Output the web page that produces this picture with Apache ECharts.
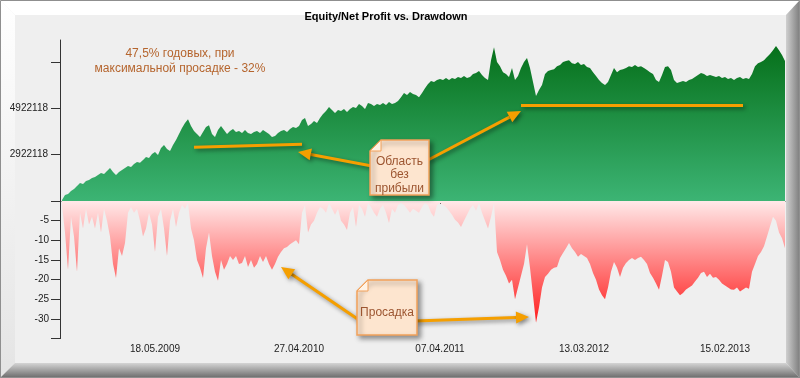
<!DOCTYPE html>
<html lang="ru">
<head>
<meta charset="UTF-8">
<title>Equity/Net Profit vs. Drawdown</title>
<script src="https://cdn.jsdelivr.net/npm/echarts@6/dist/echarts.min.js"></script>
<style>
    html, body { margin: 0; padding: 0; background: #fff; }
    #main { width: 800px; height: 378px; }
</style>
</head>
<body>
<div id="main"></div>
<script>
// equity, millions
var equity = [
    0.97, 1.18, 1.22, 1.35, 1.44, 1.57, 1.70, 1.66, 1.79, 1.83,
    1.92, 1.96, 2.05, 2.13, 2.09, 2.22, 2.35, 2.18, 2.05, 2.18,
    2.26, 2.35, 2.43, 2.39, 2.52, 2.61, 2.57, 2.69, 2.82, 2.78,
    2.95, 3.04, 2.91, 3.21, 3.34, 3.17, 3.08, 3.34, 3.56, 3.82,
    4.08, 4.29, 4.46, 4.16, 3.95, 3.82, 3.69, 3.90, 4.12, 4.20,
    3.82, 3.69, 3.99, 4.16, 3.99, 3.82, 3.95, 4.03, 3.90, 3.95,
    3.86, 3.99, 3.86, 3.82, 3.90, 3.95, 3.86, 3.99, 3.90, 3.82,
    3.69, 3.73, 3.86, 3.95, 3.99, 3.90, 4.03, 4.12, 4.08, 4.16,
    4.42, 4.51, 4.16, 4.25, 4.38, 4.29, 4.51, 4.68, 4.81, 4.98,
    4.85, 4.72, 4.85, 4.81, 4.90, 4.77, 4.90, 4.98, 4.94, 5.11,
    5.03, 4.90, 5.16, 5.11, 5.03, 5.11, 5.07, 5.16, 5.07, 5.20,
    5.11, 5.16, 5.24, 5.41, 5.59, 5.50, 5.63, 5.55, 5.50, 5.41,
    5.59, 5.80, 5.98, 6.11, 6.07, 6.15, 6.19, 6.15, 6.24, 6.15,
    6.24, 6.19, 6.28, 6.24, 6.32, 6.24, 6.28, 6.41, 6.45, 6.54,
    6.37, 6.24, 6.15, 7.01, 7.57, 6.93, 6.75, 6.49, 6.41, 6.28,
    6.67, 6.15, 6.32, 6.67, 6.93, 7.10, 6.67, 6.06, 5.46, 5.72,
    5.93, 6.41, 6.54, 6.58, 6.62, 6.75, 6.80, 6.93, 6.97, 7.01,
    6.88, 6.84, 6.93, 6.80, 6.84, 6.71, 6.67, 6.49, 6.32, 6.15,
    6.02, 5.93, 6.06, 6.37, 6.67, 6.49, 6.58, 6.62, 6.67, 6.75,
    6.71, 6.80, 6.71, 6.75, 6.67, 6.58, 6.49, 6.41, 6.15, 6.06,
    6.37, 6.71, 6.75, 6.58, 6.15, 6.02, 6.06, 6.11, 6.06, 6.15,
    6.19, 6.28, 6.37, 6.45, 6.41, 6.32, 6.37, 6.32, 6.28, 6.32,
    6.24, 6.28, 6.19, 6.24, 6.15, 6.24, 6.28, 6.19, 6.24, 6.19,
    6.41, 6.75, 6.88, 6.93, 7.01, 7.14, 7.27, 7.44, 7.62, 7.44,
    7.23, 6.97
];
// drawdown, %
var drawdown = [
    -1, -8, -17.5, -4, -9, -18, -3, -7, -2, -6,
    -4, -7, -3, -8, -2, -5, -9, -16, -19.6, -12,
    -14, -10.7, -3, -1.5, -3, -2, -5, -9, -7, -3,
    -6, -13, -4, -2, -7, -14, -5, -2, -6.6, -3,
    -1, -2, -0.5, -7, -10, -15, -17, -19.6, -12, -8,
    -14, -18, -20.3, -15, -17.5, -16, -14, -15, -14, -16,
    -15.8, -14, -16.8, -15, -17, -16, -14, -15.5, -14, -16,
    -17.5, -16, -14.2, -13, -12, -11.7, -11, -10.5, -10, -11,
    -3, -1, -8, -6, -5, -3, -1.5, -2, -3, -0.5,
    -2, -3.5, -2, -5, -6, -7.4, -3, -1.5, -6.6, -1,
    -2, -4, -0.5, -1.5, -3, -4, -2, -1, -3, -5.6,
    -2, -3, -1, -0.5, -1, -2, -3, -2, -2.5, -3,
    -1.5, -0.5, -1, -3, -4, -1, -0.5, -1, -1.5, -2.5,
    -3.5, -4.8, -5.5, -6.6, -5, -3.5, -2, -1, -2.5, -0.5,
    -3, -5, -7, -4, -0.5, -13, -15, -17.5, -19, -21,
    -20, -25, -22, -19, -16, -11, -17, -24, -31, -27,
    -22, -19.3, -18.5, -17.5, -17, -16.8, -14.5, -13.2, -12, -10.7,
    -12, -13, -14.2, -13.5, -14, -14.5, -16, -18.3, -20, -22.5,
    -24, -25, -22, -18, -15.5, -17, -19.3, -17, -15.8, -15,
    -14.5, -15, -14.5, -14.2, -15, -16, -18.3, -19.5, -21, -22.6,
    -19, -15, -15.5, -18, -22, -23, -24, -23.4, -22.5, -22,
    -21.5, -20.5, -19.5, -18.3, -18, -19.3, -18.5, -19.5, -19.3, -20,
    -21, -21.5, -22, -22.5, -22.6, -22, -23, -22.5, -22, -22.3,
    -18, -16, -14, -13, -11.5, -9, -6.5, -4, -5, -8,
    -9.5, -12
];
var equityBase = 922118;
var equityTop = 7880000;
var equityTicks = [2922118, 4922118, 6922118];
var equityLabels = [2922118, 4922118];
var dateTickIdx = [31, 79, 126, 174, 221];
var dateTickLabels = ['18.05.2009', '27.04.2010', '07.04.2011', '13.03.2012', '15.02.2013'];
// flat "no profit" zones: [startIdx, startValue, endIdx, endValue]
var flatZones = [[44, 3.25, 80, 3.38], [153, 5.07, 227, 5.07]];

var days = equity.map(function (v, i) { return String(i); });

var orange = '#f59f00';
var shadow = {shadowBlur: 4, shadowOffsetX: 2, shadowOffsetY: 2, shadowColor: 'rgba(0,0,0,0.45)'};

function arrow(sx, sy, tx, ty) {
    var dx = tx - sx, dy = ty - sy, len = Math.sqrt(dx * dx + dy * dy);
    var ux = dx / len, uy = dy / len;
    var hl = 13, hw = 6;
    var bx = tx - ux * hl, by = ty - uy * hl;
    return [
        {type: 'line', z: 100, shape: {x1: sx, y1: sy, x2: bx, y2: by},
            style: Object.assign({stroke: orange, lineWidth: 3}, shadow)},
        {type: 'polygon', z: 100,
            shape: {points: [[tx, ty], [bx - uy * hw, by + ux * hw], [bx + uy * hw, by - ux * hw]]},
            style: Object.assign({fill: orange}, shadow)}
    ];
}

function note(x, y, w, h, text, ty) {
    var f = 11;
    return [
        {type: 'polygon', z: 101,
            shape: {points: [[x + f, y], [x + w, y], [x + w, y + h], [x, y + h], [x, y + f]]},
            style: {fill: '#fde5cf', stroke: '#f2a15a', lineWidth: 1.5,
                shadowBlur: 5, shadowOffsetX: 3, shadowOffsetY: 3, shadowColor: 'rgba(0,0,0,0.4)'}},
        {type: 'polygon', z: 102,
            shape: {points: [[x, y + f], [x + f, y + f], [x + f, y]]},
            style: {fill: '#fff3e6', stroke: '#f2a15a', lineWidth: 1}},
        {type: 'text', z: 103, x: x + w / 2, y: ty,
            style: {text: text, fill: '#9c5530', font: '12px Arial', align: 'center',
                verticalAlign: 'middle', lineHeight: 13.5}}
    ];
}

var graphics = [];
graphics = graphics.concat(arrow(372, 166, 298, 152));
graphics = graphics.concat(arrow(428, 160, 521, 111));
graphics = graphics.concat(arrow(359, 320, 281, 267));
graphics = graphics.concat(arrow(415, 321, 529, 317));
graphics = graphics.concat(note(370, 140, 59, 55, 'Область\nбез\nприбыли', 175));
graphics = graphics.concat(note(357, 280, 60, 55, 'Просадка', 313));
graphics.push(
    {type: 'text', z: 100, x: 180, y: 61,
        style: {text: '47,5% годовых, при\nмаксимальной просадке - 32%', fill: '#b5652e',
            font: '12px Arial', align: 'center', verticalAlign: 'middle', lineHeight: 14.5}},
    {type: 'text', z: 100, x: 386, y: 17,
        style: {text: 'Equity/Net Profit vs. Drawdown', fill: '#000',
            font: 'bold 11px Arial', align: 'center', verticalAlign: 'middle'}},
    // frame, kept under axis labels and title
    {type: 'polygon', z: -5, shape: {points: [[0, 0], [800, 0], [786, 15], [15, 15]]}, style: {fill: '#ffffff'}},
    {type: 'polygon', z: -5, shape: {points: [[0, 0], [15, 15], [15, 363], [0, 378]]},
        style: {fill: new echarts.graphic.LinearGradient(0, 0, 0, 1, [{offset: 0, color: '#ffffff'}, {offset: 1, color: '#e4e4e4'}])}},
    {type: 'polygon', z: -5, shape: {points: [[800, 0], [800, 378], [786, 363], [786, 15]]},
        style: {fill: new echarts.graphic.LinearGradient(0, 0, 1, 0, [{offset: 0, color: '#cfcfcf'}, {offset: 1, color: '#7c7c7c'}])}},
    {type: 'polygon', z: -5, shape: {points: [[0, 378], [15, 363], [786, 363], [800, 378]]},
        style: {fill: new echarts.graphic.LinearGradient(0, 0, 0, 1, [{offset: 0, color: '#d4d4d4'}, {offset: 1, color: '#6a6a6a'}])}},
    {type: 'rect', z: -4, shape: {x: 0.5, y: 0.5, width: 799, height: 377},
        style: {fill: 'none', stroke: '#8f8f8f', lineWidth: 1}}
);

var axisColor = '#333';
var labelStyle = {color: '#222', fontSize: 10, fontFamily: 'Arial'};

var myChart = echarts.init(document.getElementById('main'));
var option = {
    animation: false,
    backgroundColor: '#efefef',
    grid: [
        {left: 62, right: 15, top: 40, height: 161},
        {left: 62, right: 15, top: 201, height: 137.6}
    ],
    xAxis: [
        {type: 'category', gridIndex: 0, data: days, boundaryGap: false, show: false},
        {type: 'category', gridIndex: 1, data: days, boundaryGap: false,
            axisLine: {lineStyle: {color: axisColor}},
            axisTick: {length: 3, lineStyle: {color: axisColor},
                interval: function (idx) { return dateTickIdx.indexOf(idx) >= 0; }},
            axisLabel: Object.assign({margin: 6,
                interval: function (idx) { return dateTickIdx.indexOf(idx) >= 0; },
                formatter: function (val, idx) {
                    var k = dateTickIdx.indexOf(idx);
                    return k >= 0 ? dateTickLabels[k] : '';
                }}, labelStyle),
            splitLine: {show: false}}
    ],
    yAxis: [
        {type: 'value', gridIndex: 0, offset: 2, min: equityBase / 1e6, max: equityTop / 1e6,
            axisLine: {show: true, lineStyle: {color: axisColor}},
            axisTick: {show: true, length: 9, lineStyle: {color: axisColor},
                customValues: equityTicks.map(function (v) { return v / 1e6; })},
            axisLabel: Object.assign({margin: 12,
                customValues: equityLabels.map(function (v) { return v / 1e6; }),
                formatter: function (v) { return String(Math.round(v * 1e6)); }}, labelStyle),
            splitLine: {show: false}},
        {type: 'value', gridIndex: 1, offset: 2, min: -35, max: 0, interval: 5,
            axisLine: {show: true, lineStyle: {color: axisColor}},
            axisTick: {show: true, length: 9, lineStyle: {color: axisColor}},
            axisLabel: Object.assign({margin: 11,
                formatter: function (v) { return (v === 0 || v === -35) ? '' : String(v); }}, labelStyle),
            splitLine: {show: false}}
    ],
    series: [
        {type: 'line', xAxisIndex: 0, yAxisIndex: 0, data: equity, symbol: 'none', silent: true,
            lineStyle: {width: 0},
            areaStyle: {opacity: 1, color: new echarts.graphic.LinearGradient(0, 0, 0, 1, [
                {offset: 0, color: '#06701a'}, {offset: 1, color: '#3cb474'}])},
            markLine: {silent: true, symbol: ['none', 'none'], label: {show: false},
                lineStyle: Object.assign({color: orange, width: 3, type: 'solid'}, shadow),
                data: flatZones.map(function (z) {
                    return [{coord: [z[0], z[1]]}, {coord: [z[2], z[3]]}];
                })}},
        {type: 'line', xAxisIndex: 1, yAxisIndex: 1, data: drawdown, symbol: 'none', silent: true,
            lineStyle: {width: 0},
            areaStyle: {opacity: 1, color: new echarts.graphic.LinearGradient(0, 0, 0, 1, [
                {offset: 0, color: '#ffe9e9'}, {offset: 1, color: '#ff1c1c'}])}}
    ],
    graphic: graphics
};
myChart.setOption(option);
</script>
</body>
</html>
